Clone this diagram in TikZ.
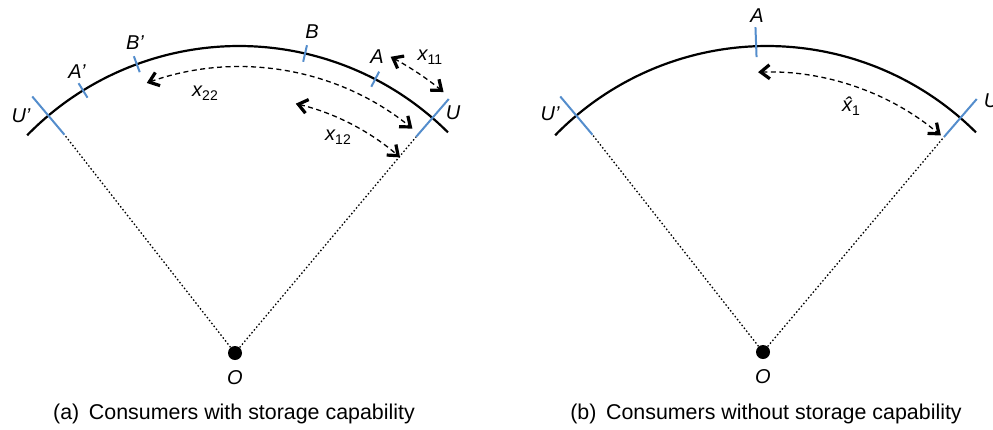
\documentclass[tikz,border=0pt]{standalone}
\usepackage{fontspec}
\setmainfont{Liberation Sans}
\usetikzlibrary{arrows.meta}
\definecolor{tickblue}{RGB}{84,141,204}
\newcommand\lsub[1]{\raisebox{-4.5pt}{\upshape\fontsize{14}{14}\selectfont #1}}
\begin{document}
\begin{tikzpicture}[x=1pt,y=1pt,
  lab/.style={font=\fontsize{20}{20}\selectfont\itshape, inner sep=0pt},
  captext/.style={font=\fontsize{21.4}{22}\selectfont, inner sep=0pt},
  mainarc/.style={line width=2.2pt},
  tickline/.style={tickblue, line width=2pt},
  ray/.style={line width=1.3pt, dash pattern=on 1.5pt off 2.2pt},
  dist/.style={line width=1.3pt, dash pattern=on 5pt off 3.5pt, {Straight Barb[length=9pt,width=14pt,line width=3.2pt]}-{Straight Barb[length=9pt,width=14pt,line width=3.2pt]}},
  odot/.style={circle, fill, inner sep=0pt, minimum size=14pt}]
\useasboundingbox (0,0) rectangle (993,-429);
% ---------- panel (a) ----------
\coordinate (CL) at (239,-342);
\node[odot] (OL) at (235,-353) {};
\draw[mainarc] ([shift={(135.7:296)}]CL) arc[start angle=135.7,end angle=45.1,radius=296];
\coordinate (ULin) at ([shift={(130.1:271)}]CL);
\coordinate (ULout) at ([shift={(130.1:321)}]CL);
\coordinate (URin) at ([shift={(49.2:271)}]CL);
\coordinate (URout) at ([shift={(49.2:321)}]CL);
\draw[ray] (OL) -- (ULin);
\draw[ray] (OL) -- (URin);
\draw[tickline] (ULin) -- (ULout);
\draw[tickline] (URin) -- (URout);
\foreach \a/\n in {121.8/Ap,110.2/Bp,77.1/B,62.6/A}{
  \draw[tickline] ([shift={(\a:287.5)}]CL) coordinate (t\n i) -- ([shift={(\a:304.5)}]CL) coordinate (t\n o);
}
\draw[dist] ([shift={(62:323)}]CL) arc[start angle=62,end angle=50.7,radius=323];
\draw[dist] ([shift={(109.6:275)}]CL) arc[start angle=109.6,end angle=50.9,radius=275];
\draw[dist] ([shift={(76.6:245)}]CL) arc[start angle=76.6,end angle=48.9,radius=245];
\node[lab] (lUp) at (21,-116) {U’};
\node[lab] (lAp) at (77,-72) {A’};
\node[lab] (lBp) at (135,-43) {B’};
\node[lab] (lB) at (312,-32) {B};
\node[lab] (lA) at (377,-57) {A};
\node[lab] (lU) at (453,-113) {U};
\node[lab] (lx11) at (430,-57) {x\lsub{11}};
\node[lab] (lx22) at (205,-93) {x\lsub{22}};
\node[lab] (lx12) at (338,-137) {x\lsub{12}};
\node[lab] (lOL) at (235,-378) {O};
\node[captext] (capa) at (234,-414) {(a)\hspace{0.45em}Consumers with storage capability};
% ---------- panel (b) ----------
\coordinate (CR) at (767,-342);
\node[odot] (OR) at (763,-352) {};
\draw[mainarc] ([shift={(135.7:296)}]CR) arc[start angle=135.7,end angle=45.1,radius=296];
\coordinate (VLin) at ([shift={(130.1:271)}]CR);
\coordinate (VLout) at ([shift={(130.1:321)}]CR);
\coordinate (VRin) at ([shift={(49.2:271)}]CR);
\coordinate (VRout) at ([shift={(49.2:321)}]CR);
\draw[ray] (OR) -- (VLin);
\draw[ray] (OR) -- (VRin);
\draw[tickline] (VLin) -- (VLout);
\draw[tickline] (VRin) -- (VRout);
\draw[tickline] ([shift={(92.1:285)}]CR) coordinate (tAi) -- ([shift={(92.1:315)}]CR) coordinate (tAo);
\draw[dist] ([shift={(91.9:270)}]CR) arc[start angle=91.9,end angle=49.9,radius=270];
\node[lab] (mUp) at (550,-114) {U’};
\node[lab] (mA) at (757,-16) {A};
\node[lab] (mU) at (991,-101) {U};
\node[lab] (mx1) at (851,-106) {\^x\lsub{1}};
\node[lab] (mOR) at (763,-377) {O};
\node[captext] (capb) at (766,-414) {(b)\hspace{0.45em}Consumers without storage capability};
\end{tikzpicture}
\end{document}
